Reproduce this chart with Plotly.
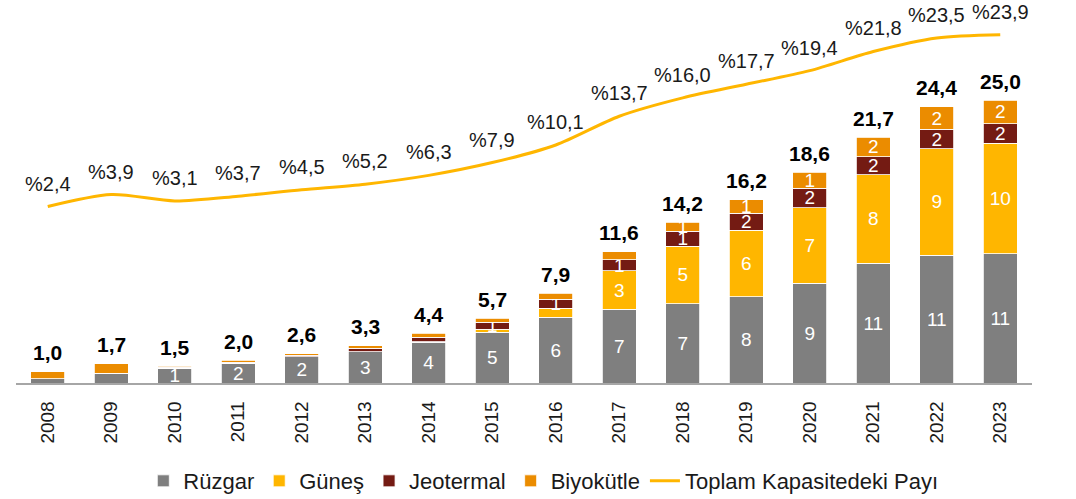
import plotly.graph_objects as go

years = [str(y) for y in range(2008, 2024)]
wind = [0.36, 0.8, 1.32, 1.75, 2.3, 2.75, 3.6, 4.5, 5.8, 6.5, 7.0, 7.6, 8.8, 10.6, 11.3, 11.4]
solar = [0, 0, 0, 0, 0, 0, 0.05, 0.25, 0.8, 3.4, 5.1, 5.9, 6.7, 7.8, 9.4, 9.8]
geo = [0.03, 0.08, 0.09, 0.1, 0.16, 0.3, 0.4, 0.62, 0.82, 1.0, 1.3, 1.5, 1.7, 1.6, 1.7, 1.7]
bio = [0.6, 0.82, 0.07, 0.15, 0.14, 0.25, 0.35, 0.33, 0.5, 0.7, 0.8, 1.2, 1.4, 1.7, 2.0, 2.1]
totals = [1.0, 1.7, 1.5, 2.0, 2.6, 3.3, 4.4, 5.7, 7.9, 11.6, 14.2, 16.2, 18.6, 21.7, 24.4, 25.0]
share = [2.4, 3.9, 3.1, 3.7, 4.5, 5.2, 6.3, 7.9, 10.1, 13.7, 16.0, 17.7, 19.4, 21.8, 23.5, 23.9]

wind_lbl = ["", "", "1", "2", "2", "3", "4", "5", "6", "7", "7", "8", "9", "11", "11", "11"]
solar_lbl = ["", "", "", "", "", "", "", "", "", "3", "5", "6", "7", "8", "9", "10"]
geo_lbl = ["", "", "", "", "", "", "", "1", "1", "1", "1", "2", "2", "2", "2", "2"]
bio_lbl = ["", "", "", "", "", "", "", "", "", "", "1", "1", "1", "2", "2", "2"]

series = [
    ("Rüzgar", wind, wind_lbl, "#7F7F7F"),
    ("Güneş", solar, solar_lbl, "#FFB600"),
    ("Jeotermal", geo, geo_lbl, "#741B13"),
    ("Biyokütle", bio, bio_lbl, "#EB8C00"),
]

FONT = "Liberation Sans, Arial, sans-serif"
fig = go.Figure()
for name, vals, lbls, col in series:
    fig.add_trace(go.Bar(
        x=years, y=vals, name=name, text=lbls,
        marker=dict(color=col, line=dict(color="white", width=0.8)),
        textposition="inside", insidetextanchor="middle", textangle=0,
        constraintext="none", cliponaxis=False,
        textfont=dict(color="white", size=19, family=FONT),
    ))

fig.add_trace(go.Scatter(
    x=years, y=share, name="Toplam Kapasitedeki Payı", yaxis="y2",
    mode="lines", line=dict(color="#FFB600", width=3, shape="spline", smoothing=0.8),
))

stack_top = [w + s + g + b for w, s, g, b in zip(wind, solar, geo, bio)]
annotations = []
for i, (top, tot) in enumerate(zip(stack_top, totals)):
    annotations.append(dict(
        x=i, y=top, xref="x", yref="y", text="<b>" + f"{tot:.1f}".replace(".", ",") + "</b>",
        showarrow=False, yanchor="middle", yshift=19,
        font=dict(size=21, color="#000000", family=FONT),
    ))
for i, p in enumerate(share):
    annotations.append(dict(
        x=i, y=p, xref="x", yref="y2", text="%" + f"{p:.1f}".replace(".", ","),
        showarrow=False, yanchor="middle", yshift=23,
        font=dict(size=20, color="#1a1a1a", family=FONT),
    ))

fig.update_layout(
    width=1076, height=499,
    margin=dict(l=16, r=44, t=10, b=116),
    barmode="stack", bargap=0.465,
    plot_bgcolor="white", paper_bgcolor="white",
    font=dict(family=FONT, color="#1a1a1a"),
    xaxis=dict(
        type="category", range=[-0.5, len(years) - 0.5],
        showline=True, linecolor="#A6A6A6", linewidth=1.5,
        ticks="", tickangle=-90, tickfont=dict(size=19, color="#1a1a1a"),
        ticklabelstandoff=9, showgrid=False, automargin=False,
    ),
    yaxis=dict(range=[0, 32.95], visible=False, showgrid=False),
    yaxis2=dict(range=[-19.68, 26.99], overlaying="y", visible=False, showgrid=False),
    legend=dict(
        orientation="h", x=0.519, xanchor="center",
        yref="container", y=0.036, yanchor="middle",
        font=dict(size=22, color="#1a1a1a", family=FONT), traceorder="normal",
        itemwidth=30,
    ),
    annotations=annotations,
    showlegend=True,
)

fig.write_html("out.html", config={"displayModeBar": False},
               post_script="document.body.style.margin='0';")
